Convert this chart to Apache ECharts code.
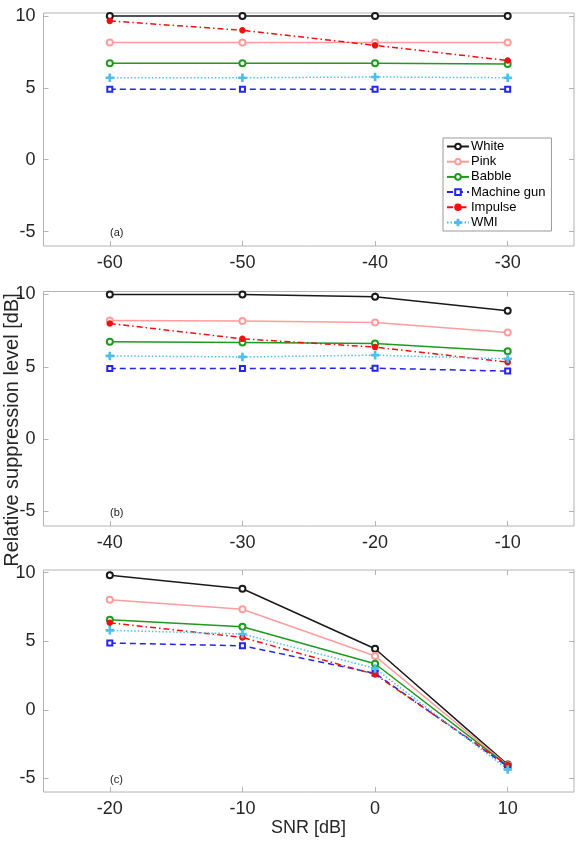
<!DOCTYPE html>
<html>
<head>
<meta charset="utf-8">
<script src="https://cdn.jsdelivr.net/npm/echarts@6/dist/echarts.min.js"></script>
<style>
html, body {margin: 0; padding: 0; background: #fff;}
#main {width: 578px; height: 845px;}
</style>
</head>
<body>
<div id="main"></div>
<script>
// 横轴 SNR
var snrA = [-60, -50, -40, -30]
var snrB = [-40, -30, -20, -10]
var snrC = [-20, -10, 0, 10]
var yTicks = [-5, 0, 5, 10]
var noiseNames = ['White', 'Pink', 'Babble', 'Machine gun', 'Impulse', 'WMI']

// (a)
var whiteA = [10.0, 10.0, 10.0, 10.0]
var pinkA = [8.15, 8.15, 8.15, 8.15]
var babbleA = [6.7, 6.7, 6.7, 6.65]
var gunA = [4.9, 4.9, 4.9, 4.9]
var impulseA = [9.65, 9.0, 7.95, 6.9]
var wmiA = [5.7, 5.7, 5.75, 5.7]

// (b)
var whiteB = [10.0, 10.0, 9.83, 8.87]
var pinkB = [8.19, 8.17, 8.06, 7.37]
var babbleB = [6.72, 6.67, 6.6, 6.08]
var gunB = [4.88, 4.88, 4.9, 4.7]
var impulseB = [7.99, 6.93, 6.36, 5.32]
var wmiB = [5.75, 5.68, 5.8, 5.55]

// (c)
var whiteC = [9.81, 8.83, 4.45, -4.0]
var pinkC = [8.03, 7.33, 3.92, -4.05]
var babbleC = [6.57, 6.06, 3.36, -4.1]
var gunC = [4.87, 4.67, 2.66, -4.15]
var impulseC = [6.35, 5.28, 2.58, -4.05]
var wmiC = [5.8, 5.53, 3.02, -4.35]

var FONT = 'Liberation Sans'
var AXIS_COLOR = '#b4b4b4'
var TEXT_COLOR = '#262626'

// 各噪声线型
var styles = [
    {color: '#1a1a1a', type: 'solid', symbol: 'emptyCircle', size: 6},
    {color: '#ff9c9c', type: 'solid', symbol: 'emptyCircle', size: 6},
    {color: '#1f9a1f', type: 'solid', symbol: 'emptyCircle', size: 6},
    {color: '#2424f0', type: [6, 4], symbol: 'emptyRect', size: 5},
    {color: '#f01010', type: [6, 3, 1.5, 3], symbol: 'circle', size: 5},
    {color: '#4dbfed', type: [1.5, 2], symbol: 'path://M-1,-6H1V-1H6V1H1V6H-1V1H-6V-1H-1Z', size: 7}
]

var panels = [
    {snr: snrA, min: -65, max: -25, top: 13, height: 233, tag: '(a)', tagTop: 227,
        vals: [whiteA, pinkA, babbleA, gunA, impulseA, wmiA]},
    {snr: snrB, min: -45, max: -5, top: 291.5, height: 234.5, tag: '(b)', tagTop: 507,
        vals: [whiteB, pinkB, babbleB, gunB, impulseB, wmiB]},
    {snr: snrC, min: -25, max: 15, top: 570, height: 222, tag: '(c)', tagTop: 774,
        vals: [whiteC, pinkC, babbleC, gunC, impulseC, wmiC]}
]

// 坐标轴（刻度朝内，不贴零点）
function makeAxis (type, i, min, max, position, ticks, withLabel) {
    return {
        type: 'value', gridIndex: i, min: min, max: max, position: position,
        axisLine: {show: false, onZero: false},
        axisTick: {inside: true, length: 5, customValues: ticks, lineStyle: {color: AXIS_COLOR}},
        axisLabel: withLabel
            ? {customValues: ticks, margin: 8, fontFamily: FONT, fontSize: 18, color: TEXT_COLOR}
            : {show: false},
        splitLine: {show: false}
    }
}

function buildOption () {
    var option = {
        backgroundColor: '#fff',
        animation: false,
        grid: [], xAxis: [], yAxis: [], series: [],
        legend: {
            orient: 'vertical',
            left: 443,
            top: 138,
            itemWidth: 22,
            itemHeight: 7,
            itemGap: 2.2,
            padding: [2, 6, 2, 3],
            backgroundColor: '#fff',
            borderColor: '#999',
            borderWidth: 1,
            borderRadius: 0,
            textStyle: {fontFamily: FONT, fontSize: 13, color: '#000', padding: [0, 0, 0, -3]},
            data: noiseNames
        },
        graphic: []
    }

    panels.forEach(function (p, i) {
        option.grid.push({
            left: 43.5, right: 4, top: p.top, height: p.height,
            show: true, borderColor: AXIS_COLOR, borderWidth: 1, backgroundColor: 'transparent'
        })
        option.xAxis.push(makeAxis('x', i, p.min, p.max, 'bottom', p.snr, true))
        option.xAxis.push(makeAxis('x', i, p.min, p.max, 'top', p.snr, false))
        option.yAxis.push(makeAxis('y', i, -6, 10.2, 'left', yTicks, true))
        option.yAxis.push(makeAxis('y', i, -6, 10.2, 'right', yTicks, false))

        p.vals.forEach(function (v, k) {
            var s = styles[k]
            option.series.push({
                name: noiseNames[k],
                type: 'line',
                xAxisIndex: i * 2,
                yAxisIndex: i * 2,
                symbol: s.symbol,
                symbolSize: s.size,
                showAllSymbol: true,
                lineStyle: {color: s.color, width: 1.5, type: s.type},
                itemStyle: {color: s.color, borderColor: s.color, borderWidth: 1.5},
                data: p.snr.map(function (x, j) { return [x, v[j]] })
            })
        })

        option.graphic.push({
            type: 'text', left: 110, top: p.tagTop,
            style: {text: p.tag, font: '11px ' + FONT, fill: '#222'}
        })
    })

    // 公共坐标轴标题
    option.graphic.push({
        type: 'text', x: 12, y: 430, rotation: Math.PI / 2,
        style: {text: 'Relative suppression level [dB]', font: '20px ' + FONT, fill: TEXT_COLOR,
            textAlign: 'center', textVerticalAlign: 'middle', align: 'center', verticalAlign: 'middle'}
    })
    option.graphic.push({
        type: 'text', x: 308.5, y: 828,
        style: {text: 'SNR [dB]', font: '18px ' + FONT, fill: TEXT_COLOR,
            textAlign: 'center', textVerticalAlign: 'middle', align: 'center', verticalAlign: 'middle'}
    })
    return option
}

var myChart = echarts.init(document.getElementById('main'))
myChart.setOption(buildOption())
</script>
</body>
</html>
